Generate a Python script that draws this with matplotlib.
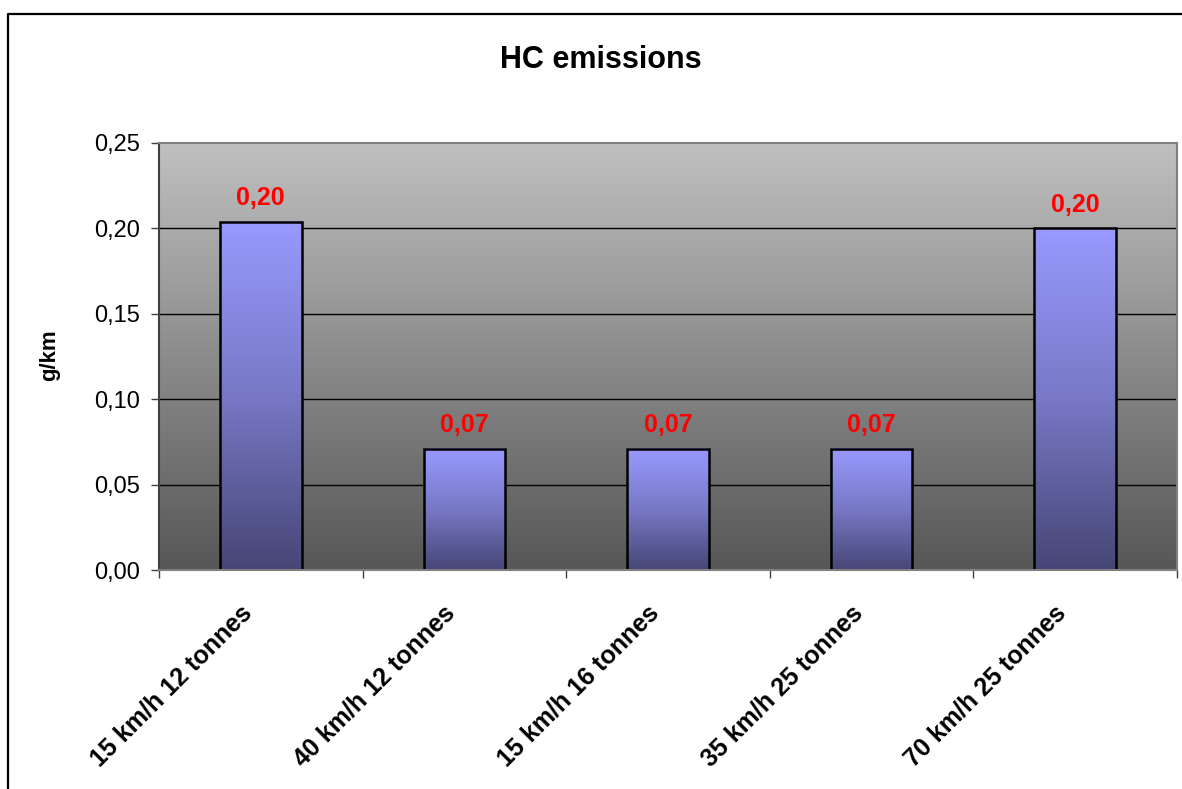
import matplotlib
matplotlib.use('Agg')
import matplotlib.pyplot as plt
import matplotlib.transforms as mtransforms
from matplotlib.colors import LinearSegmentedColormap
from matplotlib.lines import Line2D
import numpy as np

plt.rcParams['font.family'] = ['Liberation Sans', 'DejaVu Sans']

categories = ['15 km/h 12 tonnes', '40 km/h 12 tonnes', '15 km/h 16 tonnes',
              '35 km/h 25 tonnes', '70 km/h 25 tonnes']
values = [0.204, 0.071, 0.071, 0.071, 0.200]
yticks = [0.00, 0.05, 0.10, 0.15, 0.20, 0.25]

fig = plt.figure(figsize=(11.82, 7.89), dpi=100)
ax = fig.add_axes([159 / 1182, 1 - 570 / 789, 1018 / 1182, 427 / 789])

x = np.arange(len(categories))
xmin, xmax = -0.5, len(categories) - 0.5
ymin, ymax = yticks[0], yticks[-1]

# gradient background of the plot area
bg = LinearSegmentedColormap.from_list('bg', ['#575757', '#c0c0c0'])
grad = np.linspace(0, 1, 256).reshape(-1, 1)
ax.imshow(grad, cmap=bg, origin='lower', aspect='auto',
          extent=[xmin, xmax, ymin, ymax], zorder=0)

ax.hlines(yticks[1:-1], xmin, xmax, colors='black', lw=1, zorder=1)

# bars with their own gradient
barcm = LinearSegmentedColormap.from_list('bar', ['#464676', '#7878c6', '#9999ff'])
width = 0.4
bars = ax.bar(x, values, width=width, facecolor='none', edgecolor='black',
              lw=1.8, zorder=3)
for b, v in zip(bars, values):
    ax.imshow(grad, cmap=barcm, origin='lower', aspect='auto',
              extent=[b.get_x(), b.get_x() + b.get_width(), 0, v], zorder=2)
    ax.annotate(f'{v:.2f}'.replace('.', ','), (b.get_x() + b.get_width() / 2, v),
                xytext=(0, 17), textcoords='offset points', ha='center',
                va='center', color='red', fontsize=18, fontweight='bold')

ax.set_xlim(xmin, xmax)
ax.set_ylim(ymin, ymax)

ax.set_yticks(yticks)
ax.set_yticklabels([f'{t:.2f}'.replace('.', ',') for t in yticks], fontsize=17)
ax.tick_params(axis='y', direction='out', length=6, width=1, color='#404040', pad=8)

ax.set_xticks(x)
ax.set_xticklabels(categories, fontsize=18, fontweight='bold')
ax.set_xticks(np.arange(xmin, xmax + 1), minor=True)
ax.tick_params(axis='x', which='major', length=0, pad=28)
ax.tick_params(axis='x', which='minor', direction='out', length=6, width=1,
               color='#404040')
plt.setp(ax.get_xticklabels(), rotation=45, ha='right', va='center',
         rotation_mode='anchor')
shift = mtransforms.ScaledTranslation(-0.13, 0, fig.dpi_scale_trans)
for lab in ax.get_xticklabels():
    lab.set_transform(lab.get_transform() + shift)

for side in ['top', 'right', 'bottom']:
    ax.spines[side].set_color('#808080')
    ax.spines[side].set_linewidth(1.5)
ax.spines['left'].set_color('#404040')
ax.spines['left'].set_linewidth(1.5)
for s in ax.spines.values():
    s.set_zorder(4)

ax.set_ylabel('g/km', fontsize=16, fontweight='bold')
ax.yaxis.set_label_coords(-0.097, 0.503)

fig.text(601 / 1182, 1 - 60 / 789, 'HC emissions', ha='center', va='center',
         fontsize=22, fontweight='bold')

# chart frame (cut at right and bottom)
fx, fy = 8 / 1182, 1 - 14 / 789
fig.add_artist(Line2D([fx, fx, 1], [0, fy, fy], color='black', lw=1.6,
                      transform=fig.transFigure))

fig.savefig('out.png', dpi=100)
